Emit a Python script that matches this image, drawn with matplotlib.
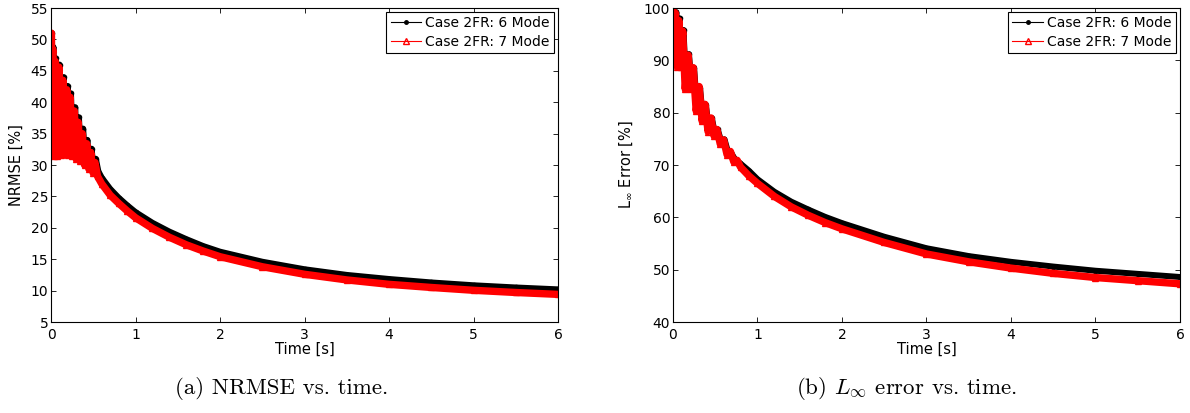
import numpy as np
import matplotlib
matplotlib.use('Agg')
import matplotlib.pyplot as plt
from matplotlib.lines import Line2D

# NRMSE [%] vs. time, 6 mode case (black)
nrmse6_t = [0.000, 0.008, 0.018, 0.028, 0.040, 0.056, 0.078, 0.100, 0.122, 0.150, 0.170, 0.196,
            0.214, 0.236, 0.258, 0.286, 0.304, 0.330, 0.354, 0.380, 0.404, 0.430, 0.454, 0.480,
            0.504, 0.530, 0.56, 0.60, 0.70, 0.80, 0.90, 1.0, 1.2, 1.4, 1.6, 1.8, 2.0, 2.5, 3.0,
            3.5, 4.0, 4.5, 5.0, 5.5, 6.0]
nrmse6_y = [44.0, 51.0, 44.0, 48.8, 31.8, 47.0, 31.8, 46.0, 32.0, 44.0, 32.2, 42.6,
            32.0, 41.4, 32.0, 39.2, 31.6, 37.6, 31.2, 35.8, 30.6, 34.0, 30.0, 32.6,
            29.4, 31.0, 29.0, 28.0, 26.2, 24.8, 23.6, 22.5, 20.8, 19.4, 18.2, 17.1, 16.2, 14.6, 13.4,
            12.5, 11.85, 11.3, 10.85, 10.5, 10.2]

# NRMSE [%] vs. time, 7 mode case (red)
nrmse7_t = [0.000, 0.004, 0.012, 0.020, 0.032, 0.050, 0.070, 0.092, 0.114, 0.140, 0.162, 0.186,
            0.206, 0.226, 0.250, 0.276, 0.296, 0.322, 0.346, 0.370, 0.396, 0.422, 0.446, 0.470,
            0.496, 0.520, 0.55, 0.60, 0.70, 0.80, 0.90, 1.0, 1.2, 1.4, 1.6, 1.8, 2.0, 2.5, 3.0,
            3.5, 4.0, 4.5, 5.0, 5.5, 6.0]
nrmse7_y = [43.5, 51.0, 43.5, 48.4, 31.4, 46.5, 31.4, 45.6, 31.6, 43.5, 31.8, 42.0,
            31.6, 40.8, 31.4, 38.6, 31.0, 36.8, 30.6, 35.0, 30.0, 33.4, 29.4, 32.0,
            28.8, 30.4, 28.2, 27.0, 25.2, 23.9, 22.7, 21.6, 19.9, 18.5, 17.3, 16.3, 15.4, 13.8, 12.6,
            11.7, 11.0, 10.5, 10.05, 9.7, 9.4]

# L_inf error [%] vs. time, 6 mode case (black)
linf6_t = [0.000, 0.020, 0.040, 0.060, 0.080, 0.100, 0.125, 0.155, 0.190, 0.220, 0.250, 0.285,
           0.320, 0.355, 0.390, 0.425, 0.460, 0.495, 0.530, 0.570, 0.610, 0.650, 0.690, 0.730,
           0.790, 0.90, 1.0, 1.2, 1.4, 1.6, 1.8, 2.0, 2.5, 3.0, 3.5, 4.0, 4.5, 5.0, 5.5, 6.0]
linf6_y = [99.8, 96.0, 99.2, 89.4, 98.0, 89.4, 95.8, 85.2, 91.2, 85.2, 88.6, 81.0,
           84.8, 79.0, 81.5, 77.0, 79.0, 76.2, 76.8, 74.6, 74.9, 72.6, 72.3, 71.2,
           70.4, 68.9, 67.3, 64.9, 63.0, 61.5, 60.1, 58.9, 56.3, 54.1, 52.6, 51.5, 50.6, 49.8, 49.2, 48.6]

# L_inf error [%] vs. time, 7 mode case (red)
linf7_t = [0.000, 0.015, 0.030, 0.050, 0.070, 0.090, 0.115, 0.145, 0.180, 0.210, 0.240, 0.275,
           0.310, 0.345, 0.380, 0.415, 0.450, 0.485, 0.520, 0.560, 0.600, 0.640, 0.680, 0.720,
           0.760, 0.80, 0.90, 1.0, 1.2, 1.4, 1.6, 1.8, 2.0, 2.5, 3.0, 3.5, 4.0, 4.5, 5.0, 5.5, 6.0]
linf7_y = [99.6, 95.6, 99.0, 88.8, 97.6, 88.8, 95.6, 84.5, 91.0, 84.5, 88.6, 80.3,
           85.0, 78.4, 81.6, 76.4, 79.0, 75.6, 76.8, 74.0, 74.8, 72.0, 72.6, 70.6,
           70.9, 69.6, 67.9, 66.5, 64.0, 62.0, 60.4, 59.0, 57.8, 55.2, 53.0, 51.5, 50.3, 49.3, 48.5, 47.9, 47.3]

labels = ['Case 2FR: 6 Mode', 'Case 2FR: 7 Mode']
xticks = [0, 1, 2, 3, 4, 5, 6]
nrmse_ticks = [5, 10, 15, 20, 25, 30, 35, 40, 45, 50, 55]
linf_ticks = [40, 50, 60, 70, 80, 90, 100]

plt.rcParams['font.family'] = ['DejaVu Sans']


def setup_axes(ax, yticks):
    ax.set_xlim(0, 6)
    ax.set_ylim(yticks[0], yticks[-1])
    ax.set_xticks(xticks)
    ax.set_yticks(yticks)
    ax.tick_params(direction='in', top=True, right=True, length=3.5, width=0.6, labelsize=10)
    ax.tick_params(axis='x', pad=4)
    ax.tick_params(axis='y', pad=2)
    for s in ax.spines.values():
        s.set_linewidth(0.8)
    ax.set_xlabel('Time [s]', fontsize=10.5, labelpad=0)


def draw_series(ax, t6, y6, t7, y7):
    ax.plot(t6, y6, color='k', lw=4.3, marker='.', ms=6,
            solid_joinstyle='round', solid_capstyle='round')
    ax.plot(t7, y7, color='r', lw=5.3, marker='^', ms=5, mfc='none', mec='r',
            solid_joinstyle='round', solid_capstyle='projecting')
    handles = [Line2D([], [], color='k', lw=0.8, marker='.', ms=5),
               Line2D([], [], color='r', lw=0.8, marker='^', ms=4, mfc='none')]
    leg = ax.legend(handles, labels, loc='upper right', fontsize=10, fancybox=False,
                    edgecolor='k', framealpha=1, borderpad=0.3, labelspacing=0.3,
                    handlelength=2.2, handletextpad=0.3, borderaxespad=0.3)
    leg.get_frame().set_linewidth(0.8)


fig = plt.figure(figsize=(11.9, 4.13), dpi=100)
ax1 = fig.add_axes([0.0429, 0.2203, 0.4261, 0.7603])
ax2 = fig.add_axes([0.5655, 0.2203, 0.4261, 0.7603])

draw_series(ax1, nrmse6_t, nrmse6_y, nrmse7_t, nrmse7_y)
setup_axes(ax1, nrmse_ticks)
ax1.set_ylabel('NRMSE [%]', fontsize=10.5)
ax1.yaxis.set_label_coords(-0.053, 0.5)

draw_series(ax2, linf6_t, linf6_y, linf7_t, linf7_y)
setup_axes(ax2, linf_ticks)
ax2.set_ylabel(r'L$_\infty$ Error [%]', fontsize=10.5, math_fontfamily='dejavusans')
ax2.yaxis.set_label_coords(-0.075, 0.5)

fig.text(282 / 1190, 1 - 389 / 413, '(a) NRMSE vs. time.', ha='center', va='center',
         fontsize=16.5, family='cmr10')
fig.text(906 / 1190, 1 - 389 / 413, r'(b) $L_\infty$ error vs. time.', ha='center', va='center',
         fontsize=16.5, family='cmr10', math_fontfamily='cm')

fig.savefig('out.png', dpi=100)
